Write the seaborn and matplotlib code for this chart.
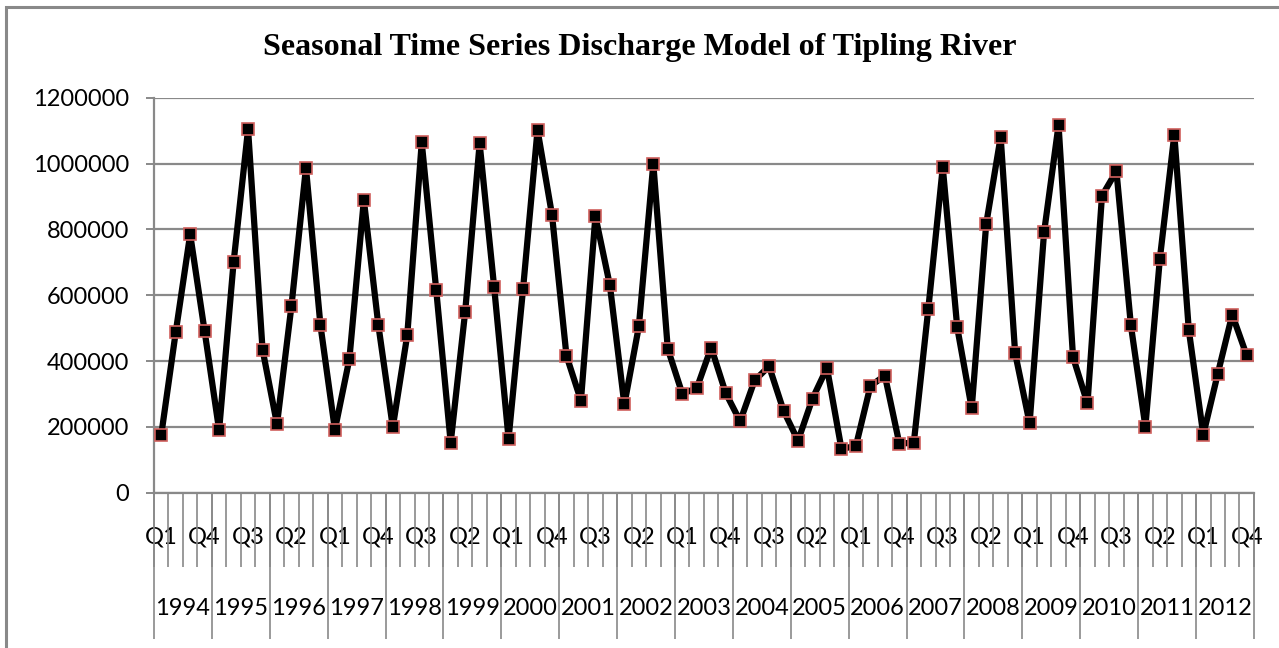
import numpy as np
import pandas as pd
import seaborn as sns
import matplotlib.pyplot as plt
from matplotlib.patches import Rectangle

# Data (quarterly discharge, 1994-2012)
years = list(range(1994, 2013))
quarters = ['Q1', 'Q2', 'Q3', 'Q4']
discharge = [
    175000, 487000, 785000, 490000,     # 1994
    190000, 700000, 1104000, 435000,    # 1995
    208000, 568000, 987000, 509000,     # 1996
    191000, 406000, 889000, 510000,     # 1997
    199000, 479000, 1064000, 616000,    # 1998
    152000, 549000, 1061000, 626000,    # 1999
    164000, 619000, 1102000, 844000,    # 2000
    416000, 280000, 840000, 630000,     # 2001
    268000, 505000, 999000, 437000,     # 2002
    301000, 317000, 441000, 303000,     # 2003
    217000, 341000, 384000, 249000,     # 2004
    158000, 286000, 379000, 133000,     # 2005
    142000, 324000, 356000, 149000,     # 2006
    152000, 558000, 989000, 502000,     # 2007
    256000, 816000, 1081000, 424000,    # 2008
    211000, 791000, 1117000, 412000,    # 2009
    271000, 902000, 977000, 508000,     # 2010
    201000, 711000, 1088000, 494000,    # 2011
    176000, 361000, 541000, 417000,     # 2012
]

df = pd.DataFrame({
    'year': np.repeat(years, 4),
    'quarter': quarters * len(years),
    'discharge': discharge,
})
df['pos'] = np.arange(len(df))

grey = '#898989'

sns.set_style('white')
plt.rcParams['font.family'] = ['Lato', 'DejaVu Sans']
plt.rcParams['text.color'] = 'black'
plt.rcParams['xtick.labelcolor'] = 'black'
plt.rcParams['ytick.labelcolor'] = 'black'

fig = plt.figure(figsize=(12.79, 6.48), dpi=100)
ax = fig.add_axes([0.1204, 0.2397, 0.8600, 0.6095])

# outer chart frame (only top and left edges show)
fig.patches.append(Rectangle((6 / 1279, -0.05), 1.2, 1.05 - 7 / 648,
                             transform=fig.transFigure, fill=False,
                             edgecolor=grey, linewidth=2.2))

sns.lineplot(data=df, x='pos', y='discharge', ax=ax, color='black',
             linewidth=4.5, marker='s', markersize=8,
             markerfacecolor='black', markeredgecolor='#d0605d',
             markeredgewidth=1.2, zorder=3)

ax.set_xlim(-0.5, len(df) - 0.5)
ax.set_ylim(0, 1200000)
ax.set_yticks(np.arange(0, 1200001, 200000))
ax.set_yticklabels([str(v) for v in range(0, 1200001, 200000)])
ax.yaxis.grid(True, color=grey, linewidth=1.6)
ax.set_axisbelow(True)

for s in ['top', 'right']:
    ax.spines[s].set_visible(False)
for s in ['left', 'bottom']:
    ax.spines[s].set_color(grey)
    ax.spines[s].set_linewidth(1.6)

ax.tick_params(axis='y', which='major', direction='out', length=5.8,
               width=1.4, color=grey, labelsize=17, pad=12, left=True)

# first level of category axis: quarters (every third label shown)
ax.set_xticks(df['pos'][::3])
ax.set_xticklabels(df['quarter'][::3])
ax.set_xticks(np.arange(-0.5, len(df), 1), minor=True)
ax.tick_params(axis='x', which='major', length=0, labelsize=17, pad=24)
ax.tick_params(axis='x', which='minor', direction='out', length=53,
               width=1.2, color=grey, bottom=True)

# second level: years
sec = ax.secondary_xaxis('bottom')
sec.spines['bottom'].set_visible(False)
sec.set_xticks([i * 4 + 1.5 for i in range(len(years))])
sec.set_xticklabels([str(y) for y in years])
sec.set_xticks(np.arange(-0.5, len(df), 4), minor=True)
sec.tick_params(axis='x', which='major', length=0, labelsize=17, pad=76)
sec.tick_params(axis='x', which='minor', direction='out', length=105,
                width=1.2, color=grey, bottom=True)

ax.set_xlabel('')
ax.set_ylabel('')
fig.text(0.5, 1 - 48 / 648, 'Seasonal Time Series Discharge Model of Tipling River',
         ha='center', va='center', fontsize=23, fontweight='bold', color='black',
         family=['Liberation Serif', 'DejaVu Serif'])

fig.savefig('out.png', dpi=100)
